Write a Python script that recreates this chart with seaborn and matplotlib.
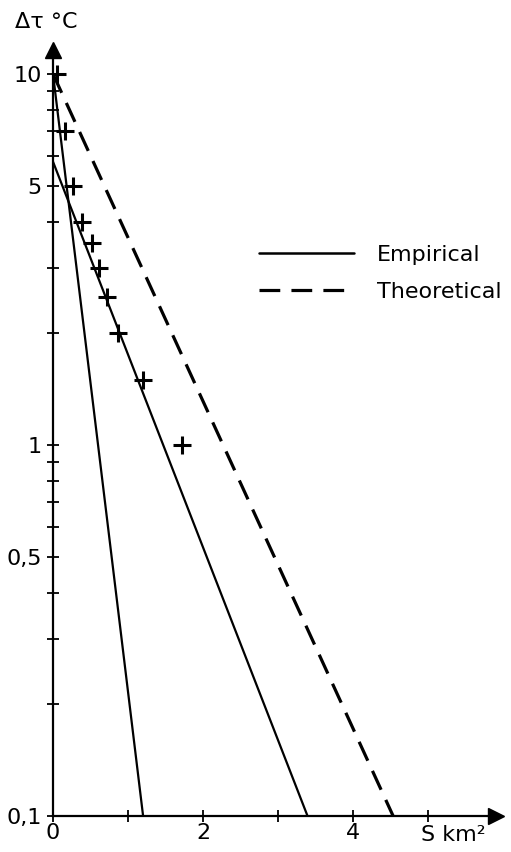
import numpy as np
import pandas as pd
import matplotlib
matplotlib.use("Agg")
import matplotlib.pyplot as plt
from matplotlib.lines import Line2D
import seaborn as sns

# measured points (crosses)
pts_s = [0.05, 0.16, 0.27, 0.38, 0.52, 0.61, 0.72, 0.87, 1.20, 1.72]
pts_dt = [10, 7, 5, 4, 3.5, 3, 2.5, 2, 1.5, 1]

# straight lines on the semi-log plot: (start S, start dT, end S, end dT)
line_names = ["emp_steep", "emp_fit", "theory"]
line_kind = ["Empirical", "Empirical", "Theoretical"]
line_s0 = [0.0, 0.0, 0.0]
line_t0 = [10.0, 5.8, 10.0]
line_s1 = [1.2, 3.39, 4.53]
line_t1 = [0.1, 0.1, 0.1]

y_major = [0.1, 0.5, 1, 5, 10]
y_major_labels = ["0,1", "0,5", "1", "5", "10"]
y_minor = [0.2, 0.3, 0.4, 0.6, 0.7, 0.8, 0.9, 2, 3, 4, 6, 7, 8, 9]
x_ticks = [0, 1, 2, 3, 4, 5]
x_tick_labels = ["0", "", "2", "", "4", ""]


def main():
    sns.set_style("ticks")
    plt.rcParams["font.family"] = ["DejaVu Sans"]
    plt.rcParams["text.color"] = "black"
    plt.rcParams["xtick.color"] = "black"
    plt.rcParams["ytick.color"] = "black"

    rows = []
    for name, kind, s0, t0, s1, t1 in zip(line_names, line_kind, line_s0, line_t0, line_s1, line_t1):
        rows.append({"line": name, "kind": kind, "S": s0, "dT": t0})
        rows.append({"line": name, "kind": kind, "S": s1, "dT": t1})
    df = pd.DataFrame(rows)

    fig = plt.figure(figsize=(5.11, 8.52), dpi=100)
    # axes box: left at S=0, bottom at 0.1; arrow tips stick out a little
    ax = fig.add_axes([53 / 511, 36 / 852, 443 / 511, 766 / 852])

    solid = df[df["kind"] == "Empirical"]
    dashed = df[df["kind"] == "Theoretical"]
    sns.lineplot(data=solid, x="S", y="dT", units="line", estimator=None,
                 color="black", lw=1.6, ax=ax, legend=False)
    sns.lineplot(data=dashed, x="S", y="dT", units="line", estimator=None,
                 color="black", lw=2.3, ax=ax, legend=False)
    ax.lines[-1].set_dashes((6.5, 3.5))

    sns.scatterplot(x=pts_s, y=pts_dt, marker="+", s=150, color="black",
                    linewidth=2.2, ax=ax, zorder=5)

    ax.set_yscale("log")
    ax.set_xlim(0, 5.9)
    ax.set_ylim(0.1, 11.6)

    ax.set_yticks(y_major)
    ax.set_yticklabels(y_major_labels)
    ax.set_yticks(y_minor, minor=True)
    ax.set_yticklabels([], minor=True)
    ax.set_xticks(x_ticks)
    ax.set_xticklabels(x_tick_labels)

    ax.tick_params(axis="both", which="both", direction="inout", length=8.5,
                   width=1.3, color="black", labelsize=16, labelcolor="black")
    ax.tick_params(axis="y", pad=4)
    ax.tick_params(axis="x", pad=1)

    sns.despine(ax=ax)
    for sp in ["left", "bottom"]:
        ax.spines[sp].set_linewidth(1.6)
        ax.spines[sp].set_color("black")
    ax.set_xlabel("")
    ax.set_ylabel("")

    # arrow heads on the axes
    ax.plot([0], [1], marker="^", ms=11, color="black", transform=ax.transAxes, clip_on=False)
    ax.plot([1], [0], marker=">", ms=11, color="black", transform=ax.transAxes, clip_on=False)

    ax.text(5.33, -0.012, "S km²", transform=ax.get_xaxis_transform(),
            ha="center", va="top", fontsize=16)
    fig.text(15 / 511, 1 - 22 / 852, "Δτ °C", ha="left", va="center", fontsize=16)

    handles = [Line2D([], [], color="black", lw=1.8),
               Line2D([], [], color="black", lw=2.3, dashes=(6.5, 3.5))]
    leg = ax.legend(handles, ["Empirical", "Theoretical"], frameon=False, fontsize=16,
                    loc="upper left", bbox_to_anchor=((250 - 53) / 443, 1 - (236 - 50) / 766),
                    handlelength=4.3, handletextpad=1.0, labelspacing=0.75, borderaxespad=0)
    for t in leg.get_texts():
        t.set_color("black")

    fig.savefig("out.png", dpi=100)
    plt.close(fig)


if __name__ == "__main__":
    main()
